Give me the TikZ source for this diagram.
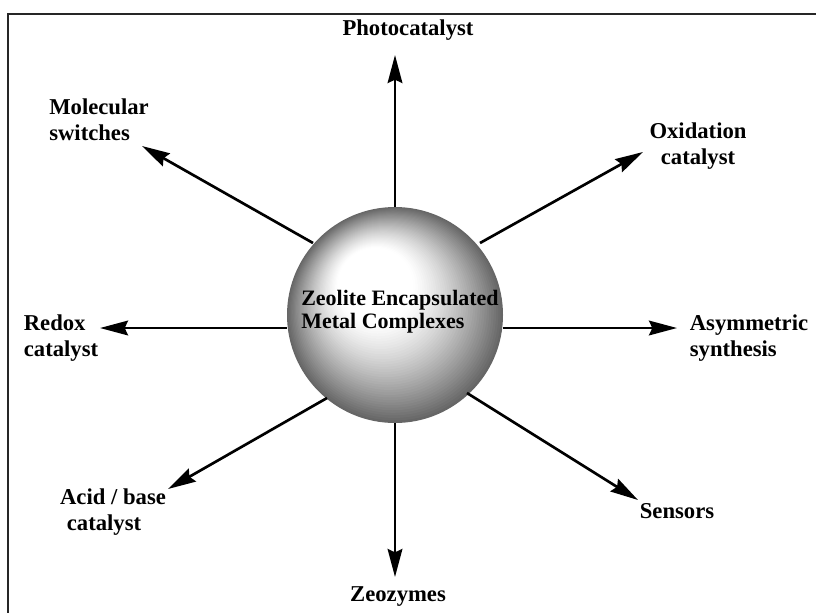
\documentclass[tikz,border=0pt]{standalone}
\usepackage{fontspec}
\setmainfont{Liberation Serif}
\usetikzlibrary{arrows.meta}
\begin{document}
\begin{tikzpicture}[x=0.75pt,y=-0.75pt,
  lbl/.style={font=\fontsize{17}{19.5}\selectfont\bfseries, inner sep=0pt},
  ray/.style={line width=2pt, -{Stealth[length=21pt,width=11pt,inset=2.5pt]}},
  frame/.style={line width=1.3pt, draw=black!85}]
\useasboundingbox (0,0) rectangle (816,612);
\clip (0,0) rectangle (816,612);
\draw[frame] (8,620) -- (8,14) -- (830,14);
% central sphere (shaded by stacked discs)
\foreach \i in {0,...,60}{
  \pgfmathsetmacro\t{\i/60}
  \pgfmathsetmacro\d{60*(max(0.0001,1-\t/0.65))^1.3}
  \pgfmathsetmacro\r{108*(1-\t)}
  \pgfmathsetmacro\cx{395-30*\t}
  \pgfmathsetmacro\cy{315-45*\t}
  \fill[black!\d] (\cx,\cy) circle[radius=\r];
}
\node[circle, minimum size=216*0.75pt, inner sep=0pt] (core) at (395,315) {};
\node[font=\fontsize{16.5}{17.5}\selectfont\bfseries, align=left, inner sep=0pt] (ctext) at (400,312)
  {Zeolite Encapsulated\\Metal Complexes};
% labels
\node[lbl] (photo) at (408,30) {Photocatalyst};
\node[lbl, align=left] (molec) at (99,120) {Molecular\\switches};
\node[lbl, align=center] (oxid) at (698,146) {Oxidation\\catalyst};
\node[lbl, align=left] (redox) at (61,338) {Redox\\catalyst};
\node[lbl, align=left] (asym) at (749,338) {Asymmetric\\synthesis};
\node[lbl, align=left] (acid) at (113,512) {Acid / base\\\hspace*{0.3em}catalyst};
\node[lbl] (sens) at (677,511) {Sensors};
\node[lbl] (zeo) at (398,597) {Zeozymes};
% arrow end points
\coordinate (tP) at (395,55);   \coordinate (sP) at (395,207);
\coordinate (tO) at (643,152);  \coordinate (sO) at (480,243);
\coordinate (tA) at (677,328);  \coordinate (sA) at (503,328);
\coordinate (tS) at (638,500);  \coordinate (sS) at (467,393);
\coordinate (tZ) at (395,577);  \coordinate (sZ) at (395,423);
\coordinate (tB) at (168,489);  \coordinate (sB) at (327,398);
\coordinate (tR) at (100,328);  \coordinate (sR) at (287,328);
\coordinate (tM) at (142,146);  \coordinate (sM) at (313,243);
\foreach \k in {P,O,A,S,Z,B,R,M} \draw[ray] (s\k) -- (t\k);
\end{tikzpicture}
\end{document}
